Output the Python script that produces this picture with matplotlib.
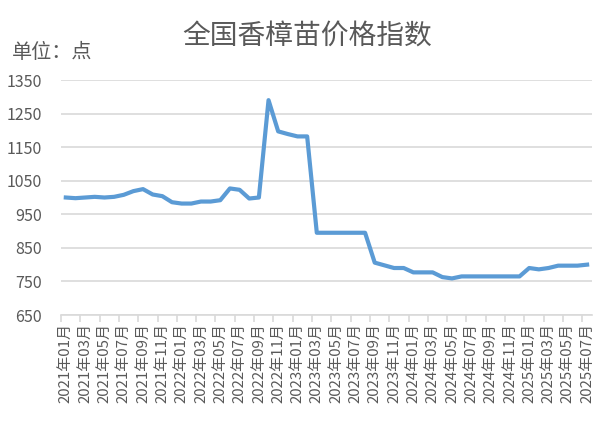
import numpy as np
import matplotlib.pyplot as plt

plt.rcParams['font.family'] = ['Noto Sans CJK SC', 'DejaVu Sans']

# 2021-01 .. 2025-07 monthly index values
months = ['%d年%02d月' % (y, m) for y in range(2021, 2026) for m in range(1, 13)][:55]
values = [1000, 998, 1000, 1002, 1000, 1002, 1008, 1019, 1025, 1009, 1004, 986,
          982, 982, 988, 988, 992, 1027, 1023, 997, 1000, 1290, 1197, 1189,
          1182, 1182, 895, 895, 895, 895, 895, 895, 806, 798, 790, 790,
          777, 777, 777, 763, 759, 765, 765, 765, 765, 765, 765, 765,
          790, 786, 790, 797, 797, 797, 800]
yticks = [650, 750, 850, 950, 1050, 1150, 1250, 1350]

grey = '#595959'
gridc = '#d9d9d9'

fig = plt.figure(figsize=(6.11, 4.29), dpi=100)
ax = fig.add_axes([0.0998, 0.2657, 0.869, 0.5478])

x = np.arange(len(values))
ax.plot(x, values, color='#5b9bd5', lw=3.0, solid_joinstyle='round', zorder=3)

ax.set_xlim(-0.5, len(values) - 0.5)
ax.set_ylim(650, 1350)
ax.set_yticks(yticks)
ax.yaxis.grid(True, color=gridc, lw=1.2)
ax.set_axisbelow(True)

ax.set_xticks(x[::2])
ax.set_xticklabels(months[::2], rotation=90, fontsize=10.8, color=grey)
ax.set_xticks(np.arange(-0.5, len(values) - 1, 2), minor=True)
ax.tick_params(axis='x', which='major', length=0, pad=6)
ax.tick_params(axis='x', which='minor', length=5, color=gridc, width=1.2)
ax.tick_params(axis='y', length=0, pad=14, labelsize=11.5, labelcolor=grey)

for s in ['top', 'right', 'left']:
    ax.spines[s].set_visible(False)
ax.spines['bottom'].set_color(gridc)
ax.spines['bottom'].set_linewidth(1.2)

fig.text(0.503, 0.915, '全国香樟苗价格指数', ha='center', va='center', fontsize=20, color=grey)
fig.text(0.02, 0.877, '单位：点', ha='left', va='center', fontsize=14.5, color=grey)

fig.savefig('out.png', dpi=100)
